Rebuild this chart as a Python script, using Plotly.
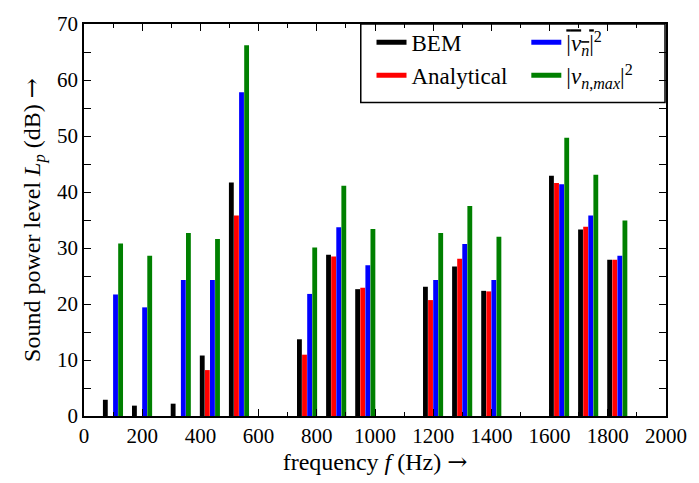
import plotly.graph_objects as go

freqs = [100, 200, 333, 433, 533, 767, 867, 967, 1200, 1300, 1400, 1633, 1733, 1833]
bem = [2.9, 1.85, 2.2, 10.8, 41.7, 13.7, 28.8, 22.65, 23.1, 26.7, 22.35, 42.9, 33.3, 27.9]
analytical = [None, None, None, 8.2, 35.8, 10.95, 28.5, 22.9, 20.7, 28.1, 22.25, 41.6, 33.8, 27.9]
vn_mean = [21.7, 19.4, 24.3, 24.3, 57.8, 21.8, 33.7, 26.9, 24.3, 30.7, 24.3, 41.4, 35.8, 28.6]
vn_max = [30.8, 28.6, 32.7, 31.6, 66.2, 30.1, 41.1, 33.4, 32.7, 37.5, 32.0, 49.7, 43.1, 34.9]

FONT = "Liberation Serif"
ARROW = '<span style="font-family:DejaVu Serif">→</span>'
W = 17.5
series = [
    ("BEM", bem, "#000000", -2 * W, "legend"),
    ("Analytical", analytical, "#ff0000", -W, "legend"),
    ('<span style="text-decoration:overline">|<i>v</i><sub><i>n</i></sub>|</span><sup>2</sup>', vn_mean, "#0000ff", 0, "legend2"),
    ("|<i>v</i><sub><i>n</i>,<i>max</i></sub>|<sup>2</sup>", vn_max, "#008000", W, "legend2"),
]

fig = go.Figure()
for name, vals, col, off, lg in series:
    fig.add_trace(go.Bar(x=freqs, y=vals, width=W * 0.95, offset=off, marker=dict(color=col, line=dict(width=0)),
                         showlegend=False, name=name))
for name, vals, col, off, lg in series:
    fig.add_trace(go.Scatter(x=[None], y=[None], mode="lines", line=dict(color=col, width=5),
                             name=name, legend=lg, showlegend=True))

axis_common = dict(showline=True, linecolor="black", linewidth=1.5, mirror="ticks", ticks="inside",
                   tickcolor="black", tickwidth=1.2, showgrid=False, zeroline=False,
                   tickfont=dict(family=FONT, size=21, color="black"))

fig.update_layout(
    width=699, height=483, margin=dict(l=84, r=23, t=12, b=66),
    plot_bgcolor="white", paper_bgcolor="white", barmode="overlay",
    xaxis=dict(range=[0, 2000], dtick=200, ticklen=7,
               minor=dict(dtick=100, ticks="inside", ticklen=4, tickcolor="black", tickwidth=1.2),
               title=dict(text="frequency <i>f</i> (Hz) " + ARROW, font=dict(family=FONT, size=24, color="black"), standoff=6),
               **axis_common),
    yaxis=dict(range=[0, 70], dtick=10, ticklen=7,
               minor=dict(dtick=5, ticks="inside", ticklen=7, tickcolor="black", tickwidth=1.2),
               title=dict(text="Sound power level <i>L</i><sub><i>p</i></sub> (dB) " + ARROW, font=dict(family=FONT, size=24, color="black"), standoff=10),
               **axis_common),
    legend=dict(x=0.494, y=1.008, xanchor="left", yanchor="top", bgcolor="rgba(0,0,0,0)",
                font=dict(family=FONT, size=23, color="black"), tracegroupgap=0),
    legend2=dict(x=0.76, y=1.008, xanchor="left", yanchor="top", bgcolor="rgba(0,0,0,0)",
                 font=dict(family=FONT, size=23, color="black"), tracegroupgap=0),
    shapes=[dict(type="rect", xref="paper", yref="paper", x0=(366 - 84) / 593, x1=(676 - 84) / 593,
                 y0=(417 - 93) / 405, y1=1, line=dict(color="black", width=1.5), fillcolor="white", layer="below")],
)
fig.write_html("out.html")
